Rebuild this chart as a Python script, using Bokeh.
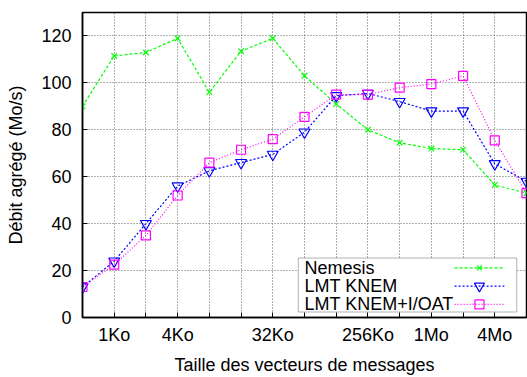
import math
from bokeh.plotting import figure
from bokeh.models import FixedTicker, BoxAnnotation, Label, Range1d
from bokeh.embed import file_html
from bokeh.resources import INLINE

# ---- data (message size in Ko, aggregated throughput in Mo/s) ----
sizes_ko = [0.5, 1, 2, 4, 8, 16, 32, 64, 128, 256, 512, 1024, 2048, 4096, 8192]
nemesis = [90, 111.5, 113, 119, 96, 113.5, 119, 103, 91, 80, 74.5, 72, 71.5, 56.5, 53]
knem = [13, 24, 40, 56, 62.5, 66, 69.5, 79, 94.5, 95.5, 92, 88, 88, 65.5, 58]
knem_ioat = [13, 22.5, 35, 52, 66, 71.5, 76, 85.5, 95, 95, 98, 99.5, 103, 75.5, 53]
series_names = ["Nemesis", "LMT KNEM", "LMT KNEM+I/OAT"]

x_tick_values = [0.5, 1, 2, 4, 8, 16, 32, 64, 128, 256, 512, 1024, 2048, 4096, 8192]
x_tick_labels = ["", "1Ko", "", "4Ko", "", "", "32Ko", "", "", "256Ko", "", "1Mo", "", "4Mo", ""]
y_tick_values = [0, 20, 40, 60, 80, 100, 120]

X0, X1 = 0.5, 8192
Y0, Y1 = 0, 130
FONT = "Liberation Sans"
FS = "18px"

p = figure(width=527, height=377, x_axis_type="log",
           x_range=Range1d(X0, X1), y_range=Range1d(Y0, Y1),
           output_backend="svg", toolbar_location=None,
           min_border_left=82, min_border_right=1, min_border_top=12,
           min_border_bottom=58)
p.background_fill_color = "white"
p.border_fill_color = "white"
p.outline_line_color = "black"
p.outline_line_width = 1.5

overrides = {v: l for v, l in zip(x_tick_values, x_tick_labels)}

xa = p.xaxis[0]
xa.ticker = FixedTicker(ticks=x_tick_values)
xa.major_label_overrides = overrides
xa.axis_label = "Taille des vecteurs de messages"
ya = p.yaxis[0]
ya.ticker = FixedTicker(ticks=y_tick_values)
ya.axis_label = "Débit agrégé (Mo/s)"
for ax in (xa, ya):
    ax.axis_line_color = "black"
    ax.axis_line_width = 1.5
    ax.major_tick_in = 5
    ax.major_tick_out = 0
    ax.minor_tick_in = 0
    ax.minor_tick_out = 0
    ax.major_tick_line_color = "black"
    ax.major_label_text_font = FONT
    ax.major_label_text_font_size = FS
    ax.major_label_text_color = "black"
    ax.axis_label_text_font = FONT
    ax.axis_label_text_font_size = FS
    ax.axis_label_text_font_style = "normal"
    ax.axis_label_text_color = "black"
xa.major_label_standoff = 7
xa.axis_label_standoff = 7
ya.major_label_standoff = 11
ya.axis_label_standoff = 12

for g in (p.xgrid[0], p.ygrid[0]):
    g.grid_line_color = "#606060"
    g.grid_line_dash = "1 2"
    g.grid_line_width = 1
p.xgrid[0].ticker = FixedTicker(ticks=x_tick_values)
p.ygrid[0].ticker = FixedTicker(ticks=y_tick_values)

GREEN, BLUE, MAGENTA = "#00ff00", "#0000ff", "#ff00ff"
styles = [
    dict(color=GREEN, dash="3 2", marker="x", size=8, lsize=7),
    dict(color=BLUE, dash="2 2", marker="inverted_triangle", size=11, lsize=10),
    dict(color=MAGENTA, dash="1 2", marker="square", size=9, lsize=9),
]
data = [nemesis, knem, knem_ioat]

for vals, st in zip(data, styles):
    p.line(sizes_ko, vals, line_color=st["color"], line_dash=st["dash"], line_width=1.2)
    p.scatter(sizes_ko, vals, marker=st["marker"], size=st["size"],
              line_color=st["color"], fill_color=None, line_width=1.2)

# ---- gnuplot-like legend (text left, sample right), placed by frame fractions ----
def fx(f):
    return 10 ** (math.log10(X0) + f * (math.log10(X1) - math.log10(X0)))

def fy(f):
    return Y0 + f * (Y1 - Y0)

box = BoxAnnotation(left=fx(0.486), right=fx(0.978), bottom=fy(0.018), top=fy(0.195),
                    fill_color="white", fill_alpha=1.0, line_color="black",
                    line_width=1, level="annotation")
p.add_layout(box)

rows = [0.163, 0.103, 0.043]
for name, st, r in zip(series_names, styles, rows):
    lab = Label(x=fx(0.50), y=fy(r), text=name, text_font=FONT, text_font_size=FS,
                text_baseline="middle", text_align="left", text_color="black",
                level="overlay")
    p.add_layout(lab)
    lr = p.line([fx(0.838), fx(0.95)], [fy(r), fy(r)], line_color=st["color"],
                line_dash=st["dash"], line_width=1.2)
    lr.level = "overlay"
    mr = p.scatter([fx(0.894)], [fy(r)], marker=st["marker"], size=st["lsize"],
                   line_color=st["color"], fill_color=None, line_width=1.2)
    mr.level = "overlay"

open("out.html", "w").write(file_html(p, INLINE))
